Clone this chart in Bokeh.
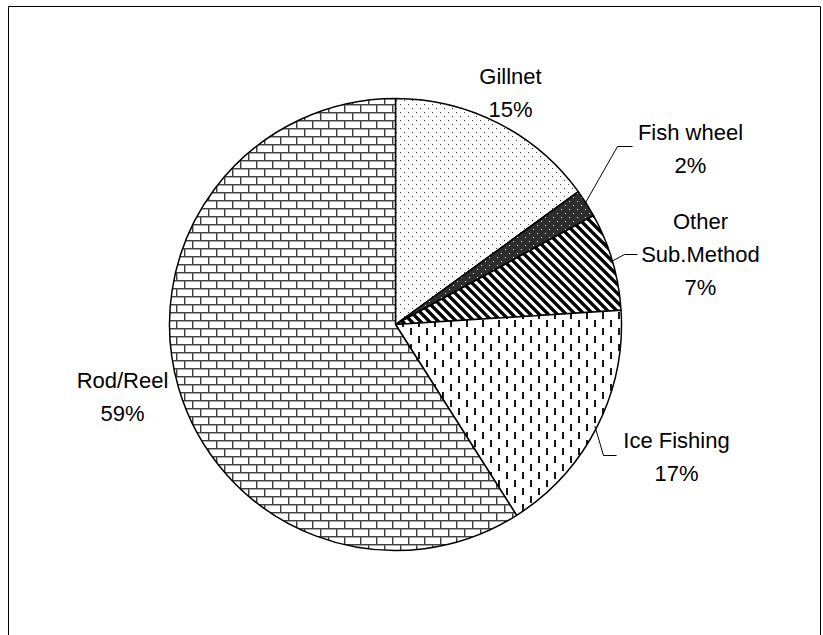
import math, zlib, struct, base64
from bokeh.plotting import figure
from bokeh.models import Range1d, ImageURLTexture
from bokeh.core.properties import value
from bokeh.embed import file_html
from bokeh.resources import INLINE

# ---- data ----
methods = ["Gillnet", "Fish wheel", "Other Sub.Method", "Ice Fishing", "Rod/Reel"]
label_names = ["Gillnet", "Fish wheel", "Other\nSub.Method", "Ice Fishing", "Rod/Reel"]
shares = [15, 2, 7, 17, 59]


# ---- texture helpers (styles) ----
def png_uri(rows):
    h = len(rows)
    w = len(rows[0])
    raw = b"".join(b"\x00" + bytes([c for px in row for c in px]) for row in rows)

    def chunk(t, d):
        c = struct.pack(">I", len(d)) + t + d
        return c + struct.pack(">I", zlib.crc32(t + d) & 0xffffffff)

    png = (b"\x89PNG\r\n\x1a\n"
           + chunk(b"IHDR", struct.pack(">IIBBBBB", w, h, 8, 2, 0, 0, 0))
           + chunk(b"IDAT", zlib.compress(raw))
           + chunk(b"IEND", b""))
    return "data:image/png;base64," + base64.b64encode(png).decode()


def tile(n, bg, marks):
    g = [[bg] * n for _ in range(n)]
    for (x, y, w, h, col) in marks:
        for yy in range(y, y + h):
            for xx in range(x, x + w):
                g[yy % n][xx % n] = col
    return g


def stripe_tile(n, width):
    rows = []
    ss = 4
    for y in range(n):
        row = []
        for x in range(n):
            cov = 0
            for sy in range(ss):
                for sx in range(ss):
                    px = x + (sx + 0.5) / ss
                    py = y + (sy + 0.5) / ss
                    t = (px - py) % n
                    d = min(t, n - t) / math.sqrt(2)
                    if d < width / 2:
                        cov += 1
            v = int(round(255 * (1 - cov / (ss * ss))))
            row.append((v, v, v))
        rows.append(row)
    return rows


WHITE = (255, 255, 255)
DOT = (60, 60, 60)
dots_tile = tile(8, WHITE, [(0, 0, 1, 1, DOT), (4, 4, 1, 1, DOT)])
darkdots_tile = tile(8, (45, 45, 45), [(1, 1, 1, 1, (235, 235, 235)),
                                       (5, 5, 1, 1, (235, 235, 235))])
stripes_tile = stripe_tile(9, 3.3)
vdash_tile = tile(16, WHITE, [(2, 0, 2, 7, (25, 25, 25)), (10, 8, 2, 7, (25, 25, 25))])
MORTAR_L = (168, 168, 168)
MORTAR_D = (64, 64, 64)
brick_tile = tile(16, WHITE, [
    (0, 1, 16, 1, MORTAR_L), (0, 9, 16, 1, MORTAR_L),
    (1, 1, 1, 7, MORTAR_L), (9, 9, 1, 7, MORTAR_L),
    (0, 0, 16, 1, MORTAR_D), (0, 8, 16, 1, MORTAR_D),
    (0, 0, 1, 8, MORTAR_D), (8, 8, 1, 8, MORTAR_D),
])

tiles = [("dots", dots_tile), ("darkdots", darkdots_tile), ("stripes", stripes_tile),
         ("vdash", vdash_tile), ("brick", brick_tile)]

# ---- layout ----
W, H = 823, 635
CX, CY = 395, 324          # pie centre in pixels
R = 226

p = figure(width=W, height=H, output_backend="svg", toolbar_location=None,
           x_range=Range1d(-CX, W - CX), y_range=Range1d(CY - H, CY),
           min_border=0)
p.axis.visible = False
p.grid.visible = False
p.outline_line_color = None
p.background_fill_color = "white"
p.border_fill_color = "white"

# outer frame
p.quad(left=[8 - CX], right=[820 - CX], top=[CY - 6], bottom=[CY - H - 20],
       fill_color=None, line_color="black", line_width=1)

total = float(sum(shares))
cum = 0.0
mids = []
for name, s, (tname, tl) in zip(methods, shares, tiles):
    a0 = math.pi / 2 - 2 * math.pi * cum / total
    a1 = math.pi / 2 - 2 * math.pi * (cum + s) / total
    mids.append((a0 + a1) / 2)
    cum += s
    p.wedge(x=[0], y=[0], radius=R, start_angle=[a0], end_angle=[a1],
            direction="clock", fill_color="white",
            hatch_pattern=value(tname), hatch_scale=len(tl),
            hatch_extra={tname: ImageURLTexture(url=png_uri(tl))},
            line_color="black", line_width=1.5)

# leader lines (elbow points in pixels) for slices with external labels
elbows = {1: [(632, 146), (617, 146)],
          2: [(637, 254), (624, 254)],
          3: [(616, 455), (603, 455)]}
for i, pts in elbows.items():
    ex = 0.99 * R * math.cos(mids[i])
    ey = 0.99 * R * math.sin(mids[i])
    xs = [pt[0] - CX for pt in pts] + [ex]
    ys = [CY - pt[1] for pt in pts] + [ey]
    p.line(xs, ys, line_color="black", line_width=1)

# labels
label_pos = [(510, 92.5), (690, 148), (700, 254), (676, 456), (122, 396.5)]
texts = [f"{n}\n{s}%" for n, s in zip(label_names, shares)]
p.text(x=[q[0] - CX for q in label_pos], y=[CY - q[1] for q in label_pos],
       text=texts, text_font=value("Liberation Sans"), text_font_size="22px",
       text_align="center", text_baseline="middle", text_line_height=1.32,
       text_color="black")

open("out.html", "w").write(file_html(p, INLINE))
